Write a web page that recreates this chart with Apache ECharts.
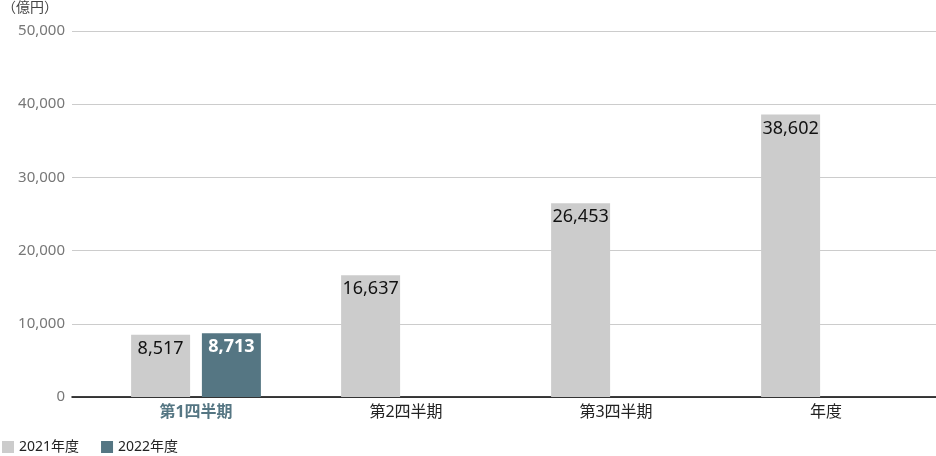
<!DOCTYPE html>
<html>
<head>
<meta charset="utf-8">
<script src="https://cdn.jsdelivr.net/npm/echarts@6/dist/echarts.min.js"></script>
<style>
  html, body { margin: 0; padding: 0; background: #fff; }
  #main { width: 936px; height: 456px; }
</style>
</head>
<body>
<div id="main"></div>
<script>
// data
const categories = ['第1四半期', '第2四半期', '第3四半期', '年度'];
const fy2021 = [8517, 16637, 26453, 38602];
const fy2022 = [8713, null, null, null];
const seriesNames = ['2021年度', '2022年度'];

const GRAY = '#cccccc';
const BLUE = '#557683';
const FONT = "'Noto Sans', 'Noto Sans CJK JP', sans-serif";

const chart = echarts.init(document.getElementById('main'), null, { renderer: 'canvas' });

const fmt = (v) => Number(v).toLocaleString('en-US');

chart.setOption({
  animation: false,
  textStyle: { fontFamily: FONT },
  title: {
    text: '（億円）',
    left: 2,
    top: 0,
    padding: [1, 0],
    textStyle: { fontSize: 14, fontWeight: 'normal', color: '#444', fontFamily: FONT }
  },
  legend: {
    left: 2,
    bottom: 2,
    padding: 0,
    icon: 'rect',
    itemWidth: 12,
    itemHeight: 12,
    itemGap: 22,
    data: seriesNames,
    textStyle: { fontSize: 14, color: '#222', fontFamily: FONT }
  },
  grid: [
    // background grid: gridlines + y labels + baseline
    { left: 72, right: 0, top: 31, bottom: 59 },
    // bars + category labels
    { left: 91, right: 5, top: 31, bottom: 59 }
  ],
  xAxis: [
    {
      gridIndex: 0,
      type: 'category',
      data: categories,
      axisLine: { lineStyle: { color: '#000', width: 1.5 } },
      axisTick: { show: false },
      axisLabel: { show: false }
    },
    {
      gridIndex: 1,
      type: 'category',
      data: categories,
      axisLine: { show: false },
      axisTick: { show: false },
      axisLabel: {
        margin: 7,
        fontSize: 16,
        fontFamily: FONT,
        color: '#222',
        formatter: (v, i) => i === 0 ? '{hl|' + v + '}' : v,
        rich: {
          hl: { fontSize: 16, fontWeight: 'bold', color: BLUE, fontFamily: FONT }
        }
      }
    }
  ],
  yAxis: [
    {
      gridIndex: 0,
      type: 'value',
      min: 0,
      max: 50000,
      interval: 10000,
      axisLine: { show: false },
      axisTick: { show: false },
      axisLabel: {
        margin: 7,
        fontSize: 15,
        color: '#777',
        fontFamily: FONT,
        formatter: fmt
      },
      splitLine: { lineStyle: { color: '#cccccc', width: 1 } }
    },
    {
      gridIndex: 1,
      type: 'value',
      min: 0,
      max: 50000,
      interval: 10000,
      show: false
    }
  ],
  series: [
    {
      name: seriesNames[0],
      type: 'bar',
      xAxisIndex: 1,
      yAxisIndex: 1,
      data: fy2021,
      barWidth: 59,
      barGap: '20%',
      itemStyle: { color: GRAY },
      label: {
        show: true,
        position: 'insideTop',
        distance: 5,
        fontSize: 18,
        color: '#111',
        fontFamily: FONT,
        formatter: (p) => fmt(p.value)
      }
    },
    {
      name: seriesNames[1],
      type: 'bar',
      xAxisIndex: 1,
      yAxisIndex: 1,
      data: fy2022,
      barWidth: 59,
      barGap: '20%',
      itemStyle: { color: BLUE },
      label: {
        show: true,
        position: 'insideTop',
        distance: 5,
        fontSize: 18,
        fontWeight: 'bold',
        color: '#fff',
        fontFamily: FONT,
        formatter: (p) => fmt(p.value)
      }
    }
  ]
});
</script>
</body>
</html>
